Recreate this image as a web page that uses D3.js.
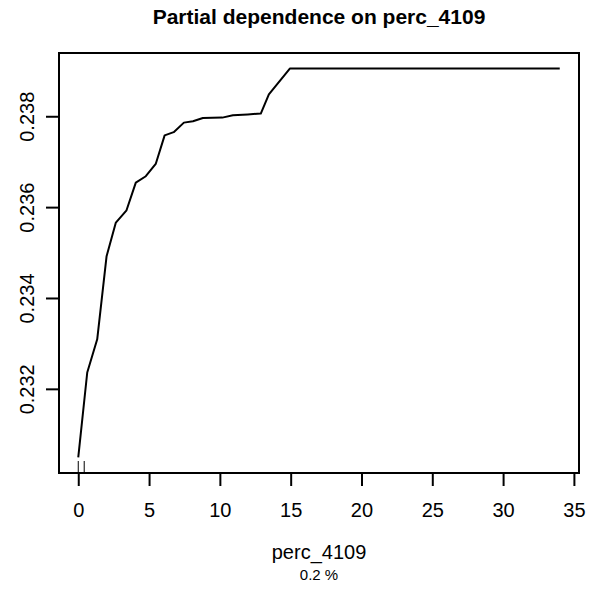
<!DOCTYPE html>
<html>
<head>
<meta charset="utf-8">
<script src="https://cdn.jsdelivr.net/npm/d3@7"></script>
<style>
  html, body { margin: 0; padding: 0; background: #fff; }
  svg { display: block; }
  text { font-family: "Liberation Sans", Arial, Helvetica, sans-serif; fill: #000; }
</style>
</head>
<body>
<svg id="chart" width="603" height="593"></svg>
<script>
// ---- data ----
const xValues = [0, 0.634, 1.338, 2.0, 2.655, 3.408, 4.063, 4.77, 5.47, 6.1, 6.74, 7.46, 8.1, 8.8, 10.17, 10.92, 11.97, 12.89, 13.46, 14.94, 34];
const yValues = [0.23049, 0.23236, 0.23309, 0.23492, 0.23566, 0.23593, 0.23654, 0.23668, 0.23695, 0.23758, 0.23765, 0.23786, 0.23789, 0.23796, 0.23797, 0.23802, 0.23804, 0.23806, 0.23848, 0.23905, 0.23905];
const rugValues = [0, 0.42];
const xTicks = [0, 5, 10, 15, 20, 25, 30, 35];
const yTicks = [0.232, 0.234, 0.236, 0.238];
const titleText = "Partial dependence on perc_4109";
const xLabel = "perc_4109";
const subLabel = "0.2 %";

// ---- layout ----
const W = 603, H = 593;
const box = { left: 59, right: 579, top: 53, bottom: 473 };

const svg = d3.select("#chart");

// R-style 4% extension
const xmin = d3.min(xValues), xmax = d3.max(xValues);
const ymin = d3.min(yValues), ymax = d3.max(yValues);
const xe = (xmax - xmin) * 0.04, ye = (ymax - ymin) * 0.04;

const x = d3.scaleLinear().domain([xmin - xe, xmax + xe]).range([box.left, box.right]);
const y = d3.scaleLinear().domain([ymin - ye, ymax + ye]).range([box.bottom, box.top]);

const fs = 20;

// line
const pts = xValues.map((v, i) => [v, yValues[i]]);
svg.append("path")
  .datum(pts)
  .attr("fill", "none")
  .attr("stroke", "#000")
  .attr("stroke-width", 2)
  .attr("stroke-linejoin", "round")
  .attr("d", d3.line().x(d => x(d[0])).y(d => y(d[1])));

// rug
svg.append("g").selectAll("line").data(rugValues).join("line")
  .attr("x1", d => x(d)).attr("x2", d => x(d))
  .attr("y1", box.bottom).attr("y2", box.bottom - 12)
  .attr("stroke", "#000").attr("stroke-width", 1);

// box
svg.append("rect")
  .attr("x", box.left).attr("y", box.top)
  .attr("width", box.right - box.left).attr("height", box.bottom - box.top)
  .attr("fill", "none").attr("stroke", "#000").attr("stroke-width", 2);

// x axis
const xAxis = d3.axisBottom(x).tickValues(xTicks).tickSize(13).tickPadding(17).tickFormat(d3.format("d"));
const gx = svg.append("g").attr("transform", `translate(0,${box.bottom})`).call(xAxis);
gx.select(".domain").remove();
gx.selectAll(".tick line").attr("stroke", "#000").attr("stroke-width", 2);
gx.selectAll(".tick text").attr("font-size", fs).attr("font-family", "Liberation Sans, Arial, sans-serif").attr("fill", "#000");

// y axis
const yAxis = d3.axisLeft(y).tickValues(yTicks).tickSize(13).tickPadding(0).tickFormat(d3.format(".3f"));
const gy = svg.append("g").attr("transform", `translate(${box.left},0)`).call(yAxis);
gy.select(".domain").remove();
gy.selectAll(".tick line").attr("stroke", "#000").attr("stroke-width", 2);
gy.selectAll(".tick text")
  .attr("font-size", fs).attr("font-family", "Liberation Sans, Arial, sans-serif").attr("fill", "#000")
  .attr("x", null).attr("dy", null)
  .attr("transform", "translate(-25,0) rotate(-90)")
  .attr("text-anchor", "middle");

const cx = (box.left + box.right) / 2;

// title
svg.append("text").attr("x", cx).attr("y", 24)
  .attr("text-anchor", "middle").attr("font-size", 21).attr("font-weight", "bold")
  .text(titleText);

// x label
svg.append("text").attr("x", cx).attr("y", 559)
  .attr("text-anchor", "middle").attr("font-size", fs)
  .text(xLabel);

// sub label
svg.append("text").attr("x", cx).attr("y", 580)
  .attr("text-anchor", "middle").attr("font-size", 15)
  .text(subLabel);
</script>
</body>
</html>
